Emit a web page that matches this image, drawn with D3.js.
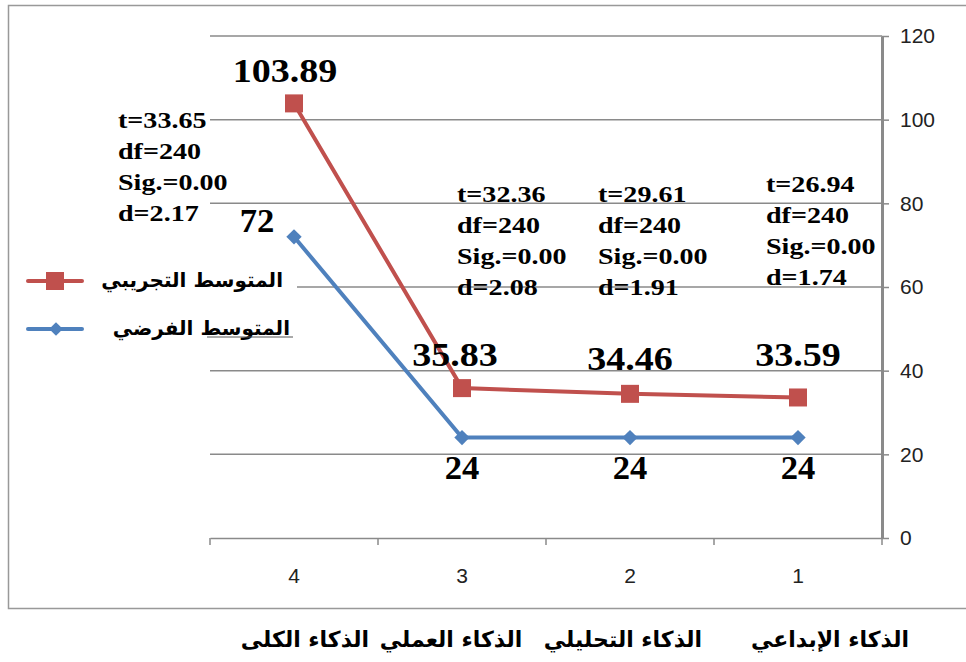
<!DOCTYPE html>
<html>
<head>
<meta charset="utf-8">
<script src="https://cdn.jsdelivr.net/npm/d3@7"></script>
<style>
  body { margin: 0; background: #fff; }
  svg { display: block; }
</style>
</head>
<body>
<figure id="chart" style="margin:0"></figure>
<script>
// categories (x axis shows 4..1 from left to right)
const tickNums = ["4", "3", "2", "1"];
const catNames = ["الذكاء الكلى", "الذكاء العملي", "الذكاء التحليلي", "الذكاء الإبداعي"];
const seriesNames = ["المتوسط التجريبي", "المتوسط الفرضي"];
const experimental = [103.89, 35.83, 34.46, 33.59];
const hypothetical = [72, 24, 24, 24];
const tValues = ["33.65", "32.36", "29.61", "26.94"];
const dfValues = ["240", "240", "240", "240"];
const sigValues = ["0.00", "0.00", "0.00", "0.00"];
const dValues = ["2.17", "2.08", "1.91", "1.74"];
const yTicks = [0, 20, 40, 60, 80, 100, 120];

const W = 966, H = 662;
const plot = { left: 210, right: 882, top: 36, bottom: 538 };
const red = "#C0504D", blue = "#4F81BD", grid = "#8a8a8a";
const sans = "Liberation Sans, Arial, sans-serif";
const serif = "Liberation Serif, Times New Roman, serif";
const arabic = "DejaVu Sans, sans-serif";

const svg = d3.select("#chart").append("svg")
  .attr("width", W).attr("height", H);

// outer frame
svg.append("path")
  .attr("d", `M${W},5.5 H8.5 V608.5 H${W}`)
  .attr("fill", "none").attr("stroke", "#999").attr("stroke-width", 1.5);

const x = d3.scaleBand().domain(tickNums).range([plot.left, plot.right]);
const y = d3.scaleLinear().domain([0, 120]).range([plot.bottom, plot.top]);

// gridlines
svg.append("g").selectAll("line").data(yTicks.filter(d => d > 0)).join("line")
  .attr("x1", plot.left).attr("x2", plot.right)
  .attr("y1", d => y(d)).attr("y2", d => y(d))
  .attr("stroke", grid).attr("stroke-width", 1.5);

// right y axis
const yAxis = svg.append("g")
  .attr("transform", `translate(${plot.right},0)`)
  .call(d3.axisRight(y).tickValues(yTicks).tickSize(7).tickPadding(11).tickSizeOuter(0));
yAxis.select(".domain").attr("stroke", grid).attr("stroke-width", 3);
yAxis.selectAll(".tick line").attr("stroke", grid).attr("stroke-width", 1.5);
yAxis.selectAll(".tick text")
  .attr("font-family", sans).attr("font-size", 21).attr("fill", "#222");

// bottom x axis
const xAxis = svg.append("g")
  .attr("transform", `translate(0,${plot.bottom})`)
  .call(d3.axisBottom(x).tickSize(0).tickPadding(30));
xAxis.select(".domain").attr("stroke", grid).attr("stroke-width", 1.5);
xAxis.selectAll(".tick text")
  .attr("font-family", sans).attr("font-size", 21).attr("fill", "#222");
// band boundary ticks
const edges = tickNums.map(d => x(d)).concat([plot.right]);
svg.append("g").selectAll("line").data(edges).join("line")
  .attr("x1", d => d).attr("x2", d => d)
  .attr("y1", plot.bottom).attr("y2", plot.bottom + 7)
  .attr("stroke", grid).attr("stroke-width", 1.5);

const cx = d => x(d) + x.bandwidth() / 2;
const line = d3.line().x(d => cx(d[0])).y(d => y(d[1]));

function drawSeries(values, color) {
  const pts = tickNums.map((k, i) => [k, values[i]]);
  svg.append("path").datum(pts)
    .attr("d", line).attr("fill", "none")
    .attr("stroke", color).attr("stroke-width", 4);
  return pts;
}

const ptsE = drawSeries(experimental, red);
svg.append("g").selectAll("rect").data(ptsE).join("rect")
  .attr("x", d => cx(d[0]) - 9).attr("y", d => y(d[1]) - 9)
  .attr("width", 18).attr("height", 18).attr("fill", red);

const ptsH = drawSeries(hypothetical, blue);
const diamond = d3.symbol().type(d3.symbolDiamond2).size(150);
svg.append("g").selectAll("path").data(ptsH).join("path")
  .attr("d", diamond)
  .attr("transform", d => `translate(${cx(d[0])},${y(d[1])})`)
  .attr("fill", blue);

// data labels (the source text is a bit wide, so stretch horizontally)
const labE = [[-9, -21], [-7, -22], [0, -24], [0, -31]];
svg.append("g").selectAll("text").data(ptsE).join("text")
  .attr("transform", (d, i) => `translate(${cx(d[0]) + labE[i][0]},${y(d[1]) + labE[i][1]}) scale(1.12,1)`)
  .attr("text-anchor", "middle")
  .attr("font-family", serif).attr("font-weight", "bold")
  .attr("font-size", 34).attr("fill", "#000")
  .text(d => d[1].toFixed(2));

const labH = [[-37, -5], [0, 41], [0, 41], [0, 41]];
svg.append("g").selectAll("text").data(ptsH).join("text")
  .attr("transform", (d, i) => `translate(${cx(d[0]) + labH[i][0]},${y(d[1]) + labH[i][1]}) scale(1.05,1)`)
  .attr("text-anchor", "middle")
  .attr("font-family", serif).attr("font-weight", "bold")
  .attr("font-size", 33).attr("fill", "#000")
  .text(d => d[1]);

// statistics blocks
const statPos = [[118, 128], [457, 202], [598, 202], [766, 192]];
tickNums.forEach((k, i) => {
  const lines = ["t=" + tValues[i], "df=" + dfValues[i], "Sig.=" + sigValues[i], "d=" + dValues[i]];
  const g = svg.append("g")
    .attr("transform", `translate(${statPos[i][0]},${statPos[i][1]}) scale(1.17,1)`);
  g.selectAll("text").data(lines).join("text")
    .attr("x", 0).attr("y", (d, j) => j * 31)
    .attr("font-family", serif).attr("font-weight", "bold")
    .attr("font-size", 24).attr("fill", "#000")
    .text(d => d);
});

// legend
const legend = svg.append("g");
legend.append("rect").attr("x", 20).attr("y", 258).attr("width", 277).attr("height", 86).attr("fill", "#fff");
const legItems = [[seriesNames[0], red, 281], [seriesNames[1], blue, 329]];
legItems.forEach(([name, color, ly], i) => {
  legend.append("line").attr("x1", 28).attr("x2", 82).attr("y1", ly).attr("y2", ly)
    .attr("stroke", color).attr("stroke-width", 4).attr("stroke-linecap", "round");
  if (i === 0) {
    legend.append("rect").attr("x", 46).attr("y", ly - 9).attr("width", 18).attr("height", 18).attr("fill", color);
  } else {
    legend.append("path").attr("d", d3.symbol().type(d3.symbolDiamond2).size(120))
      .attr("transform", `translate(56,${ly})`).attr("fill", color);
  }
  legend.append("text")
    .attr("x", i === 0 ? 283 : 290).attr("y", ly + 6)
    .attr("text-anchor", "end")
    .attr("font-family", arabic).attr("font-weight", "bold")
    .attr("font-size", 20).attr("fill", "#000")
    .text(name);
});
legend.append("line").attr("x1", 207).attr("x2", 293).attr("y1", 337).attr("y2", 337)
  .attr("stroke", "#555").attr("stroke-width", 1);

// arabic category names below the frame
const nameX = [305, 451, 623, 830];
svg.append("g").selectAll("text").data(catNames).join("text")
  .attr("x", (d, i) => nameX[i]).attr("y", 647)
  .attr("text-anchor", "middle")
  .attr("font-family", arabic).attr("font-weight", "bold")
  .attr("font-size", 22).attr("fill", "#000")
  .text(d => d);
</script>
</body>
</html>
